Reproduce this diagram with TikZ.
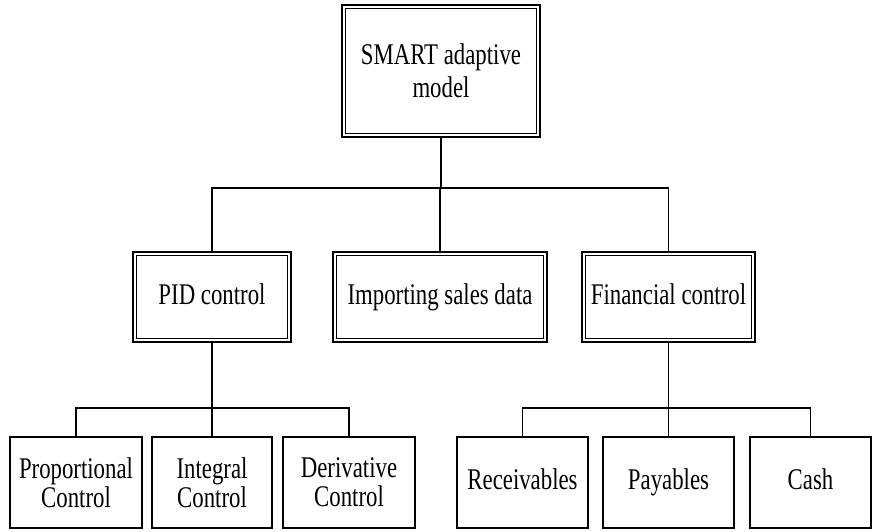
\documentclass[tikz,border=0pt]{standalone}
\usepackage{fontspec}
\setmainfont{Liberation Serif}[FakeStretch=0.76]
\begin{document}
\begin{tikzpicture}[x=1pt,y=1pt,
  boxtext/.style={font=\fontsize{30}{29}\selectfont, align=center, inner sep=0pt},
  oneline/.style={text height=20pt, text depth=6pt},
  outerbox/.style={boxtext, draw, line width=2.5pt},
  leafbox/.style={boxtext, draw, line width=2.1pt, minimum height=91pt},
  link/.style={line width=1.8pt}]
\useasboundingbox (0,0) rectangle (873,-532);

% root
\node[outerbox, minimum width=198pt, minimum height=132pt,
      font=\fontsize{30}{33}\selectfont] (top) at (441,-71) {SMART adaptive\\model};

% second level
\node[outerbox, oneline, minimum width=158pt, minimum height=90pt] (pid) at (212,-297) {PID control};
\node[outerbox, oneline, minimum width=214pt, minimum height=90pt] (imp) at (440,-297) {Importing sales data};
\node[outerbox, oneline, minimum width=173pt, minimum height=90pt] (fin) at (668.5,-297) {Financial control};

% inner lines of the double frames
\foreach \n in {top,pid,imp,fin}
  \draw[line width=1.3pt] ([xshift=4.6pt,yshift=-4.6pt]\n.north west)
        rectangle ([xshift=-4.6pt,yshift=4.6pt]\n.south east);

% leaves
\node[leafbox, minimum width=132pt] (prop) at (76,-482.5) {Proportional\\Control};
\node[leafbox, minimum width=120pt] (intg) at (212,-482.5) {Integral\\Control};
\node[leafbox, minimum width=132pt] (der)  at (349,-482.5) {Derivative\\Control};
\node[leafbox, oneline, minimum width=131pt] (rec)  at (522.5,-482.5) {Receivables};
\node[leafbox, oneline, minimum width=131pt] (pay)  at (668.5,-482.5) {Payables};
\node[leafbox, oneline, minimum width=121pt] (cash) at (810.5,-482.5) {Cash};

% bus lines
\coordinate (busA) at (441,-188);
\coordinate (busB) at (212,-408);
\coordinate (busC) at (668.5,-408);

\draw[link] (top.south) -- (busA);
\draw[link] (pid.north) |- (busA) -| (fin.north);
\draw[link] (imp.north) -- (imp.north |- busA);

\draw[link] (pid.south) -- (busB);
\draw[link] (prop.north) |- (busB) -| (der.north);
\draw[link] (intg.north) -- (intg.north |- busB);

\draw[link] (fin.south) -- (busC);
\draw[link] (rec.north) |- (busC) -| (cash.north);
\draw[link] (pay.north) -- (pay.north |- busC);
\end{tikzpicture}
\end{document}
